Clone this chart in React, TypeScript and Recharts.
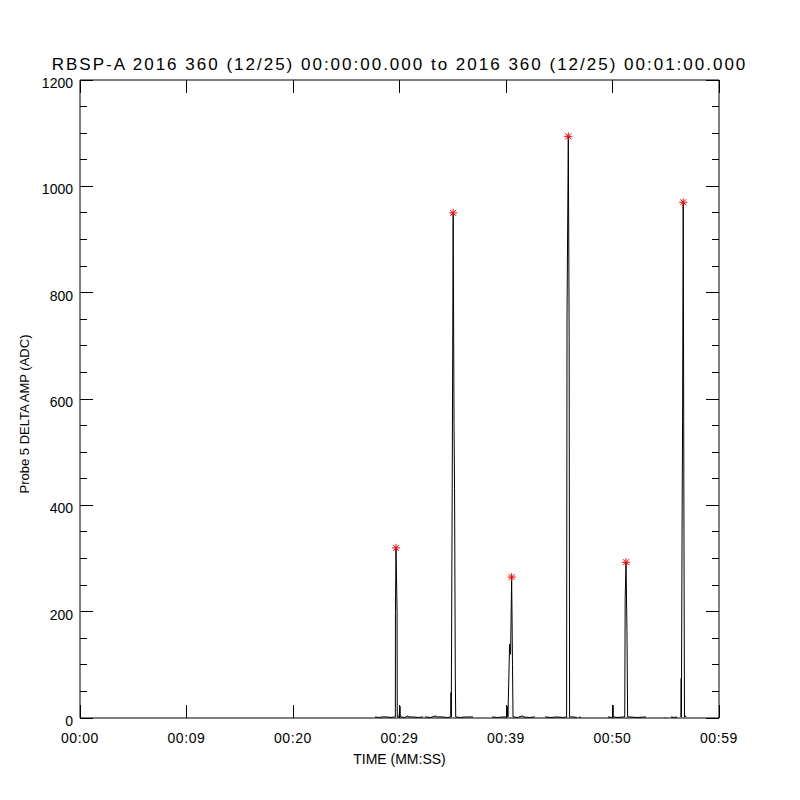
import { ComposedChart, Line, Scatter, XAxis, YAxis } from 'recharts';

// probe 5 delta amplitude samples, seconds since 00:00:00 (null = data gap)
const sampleTime = [
  27.7, 28.05, 28.4, 28.8, 29.2, 29.55, 29.61, 29.62, 29.67, 29.77, 29.79, 29.95, 30.05, 30.08,
  30.5, 30.8, 30.83, 31.3, 31.8, 32.21, 32.3,
  32.39, 32.9, 33.43, 33.46, 34.0, 34.5, 34.82, 34.84, 34.86, 34.95, 35.04, 35.12, 35.17, 35.24,
  35.28, 35.7, 36.3, 36.9, 37.8,
  38.69, 39.2, 39.7, 40.12, 40.15, 40.18, 40.34, 40.43, 40.53, 40.61, 40.66, 41.1, 41.57, 41.6,
  42.2, 42.72, 43.2,
  43.66, 44.2, 44.8, 45.3, 45.69, 45.73, 45.85, 45.93, 45.97, 46.3, 46.67, 46.76,
  46.85, 47.04, 48.3,
  49.58, 49.9, 50.03, 50.05, 50.07, 50.5, 50.99, 51.15, 51.19, 51.27, 51.36, 51.42, 51.55, 52.3,
  53.15, 54.0,
  54.9, 54.96, 55.2,
  55.49, 55.8, 56.06, 56.2,
  56.43, 56.45, 56.47, 56.53, 56.58, 56.64, 56.71, 56.76, 56.87, 56.9,
];
const sampleAmp: (number | null)[] = [
  2, 1, 2, 2, 1, 2, 2, 198, 320, 205, 2, 2, 22, 2,
  1, 4, 2, 2, 1, 2, null,
  2, 1, 4, 2, 2, 1, 2, 48, 2, 432, 950, 554, 432, 77,
  2, 1, 2, 2, null,
  2, 1, 2, 2, 22, 2, 139, 120, 265, 100, 2, 1, 4, 2,
  1, 2, null,
  2, 1, 2, 1, 2, 754, 1094, 716, 2, 2, 1, null,
  2, 1, null,
  2, 1, 2, 24, 2, 1, 2, 2, 225, 293, 162, 2, 2, 1,
  2, null,
  1, 1, null,
  2, 1, 2, null,
  2, 75, 2, 346, 558, 970, 346, 2, 4, 2,
];

// peaks flagged with red asterisks
const peakTime = [29.67, 35.04, 40.53, 45.85, 51.27, 56.64];
const peakAmp = [320, 950, 265, 1094, 293, 970];

const xTickValues = [0, 10, 20, 30, 40, 50, 60];
const xTickLabels = ['00:00', '00:09', '00:20', '00:29', '00:39', '00:50', '00:59'];
const yMajorTicks = [0, 200, 400, 600, 800, 1000, 1200];
const yMinorTicks = [50, 100, 150, 250, 300, 350, 450, 500, 550, 650, 700, 750, 850, 900, 950, 1050, 1100, 1150];

const samples = sampleTime.map((t, i) => ({ t, amp: sampleAmp[i] }));
const peaks = peakTime.map((t, i) => ({ t, amp: peakAmp[i] }));
const yTicks = [...yMajorTicks, ...yMinorTicks].sort((a, b) => a - b);

const FONT = '"Liberation Sans", Arial, sans-serif';
const MAJOR = 13;
const MINOR = 7;

function LeftTick({ x, y, payload }: any) {
  const major = yMajorTicks.includes(payload.value);
  return (
    <g>
      <line x1={x} x2={x + (major ? MAJOR : MINOR)} y1={y} y2={y} stroke="#000" shapeRendering="crispEdges" />
      {major && (
        <text x={x - 7} y={y} dy={8} textAnchor="end" fontSize={14} fontFamily={FONT} fill="#000">
          {payload.value}
        </text>
      )}
    </g>
  );
}

function RightTick({ x, y, payload }: any) {
  const major = yMajorTicks.includes(payload.value);
  return <line x1={x} x2={x - (major ? MAJOR : MINOR)} y1={y} y2={y} stroke="#000" shapeRendering="crispEdges" />;
}

function BottomTick({ x, y, index }: any) {
  return (
    <g>
      <line x1={x} x2={x} y1={y} y2={y - MAJOR} stroke="#000" shapeRendering="crispEdges" />
      <text x={x} y={y + 25} textAnchor="middle" fontSize={14} letterSpacing={0.6} fontFamily={FONT} fill="#000">
        {xTickLabels[index]}
      </text>
    </g>
  );
}

function TopTick({ x, y }: any) {
  return <line x1={x} x2={x} y1={y} y2={y + MAJOR} stroke="#000" shapeRendering="crispEdges" />;
}

function Asterisk({ cx, cy }: any) {
  return (
    <g stroke="#ff0000" strokeWidth={1}>
      <line x1={cx - 4} x2={cx + 4} y1={cy} y2={cy} />
      <line x1={cx} x2={cx} y1={cy - 4} y2={cy + 4} />
      <line x1={cx - 3} x2={cx + 3} y1={cy - 3} y2={cy + 3} />
      <line x1={cx - 3} x2={cx + 3} y1={cy + 3} y2={cy - 3} />
    </g>
  );
}

const titleLabel = ({ viewBox }: any) => (
  <text
    x={viewBox.x + viewBox.width / 2}
    y={viewBox.y + viewBox.height - 10}
    textAnchor="middle"
    fontSize={17}
    letterSpacing={2}
    fontFamily={FONT}
    fill="#000"
  >
    RBSP-A 2016 360 (12/25) 00:00:00.000 to 2016 360 (12/25) 00:01:00.000
  </text>
);

const timeLabel = ({ viewBox }: any) => (
  <text x={viewBox.x + viewBox.width / 2} y={viewBox.y + 46} textAnchor="middle" fontSize={14} fontFamily={FONT} fill="#000">
    TIME (MM:SS)
  </text>
);

const ampLabel = ({ viewBox }: any) => {
  const cx = viewBox.x + 14;
  const cy = viewBox.y + viewBox.height / 2 + 15;
  return (
    <text
      x={cx}
      y={cy}
      transform={`rotate(-90, ${cx}, ${cy})`}
      textAnchor="middle"
      dominantBaseline="central"
      fontSize={13}
      fontFamily={FONT}
      fill="#000"
    >
      Probe 5 DELTA AMP (ADC)
    </text>
  );
};

export default function App() {
  return (
    <div style={{ position: 'absolute', left: 0, top: 0, background: '#fff' }}>
      <ComposedChart width={800} height={800} margin={{ top: 79, right: 80, bottom: 32, left: 10 }}>
        <XAxis
          dataKey="t"
          type="number"
          domain={[0, 60]}
          ticks={xTickValues}
          interval={0}
          height={50}
          stroke="#000"
          tickLine={false}
          tickSize={0}
          tickMargin={0}
          tick={<BottomTick />}
          label={timeLabel}
        />
        <XAxis
          xAxisId="top"
          orientation="top"
          dataKey="t"
          type="number"
          domain={[0, 60]}
          ticks={xTickValues}
          interval={0}
          height={1}
          stroke="#000"
          tickLine={false}
          tickSize={0}
          tickMargin={0}
          tick={<TopTick />}
          label={titleLabel}
        />
        <YAxis
          dataKey="amp"
          type="number"
          domain={[0, 1200]}
          ticks={yTicks}
          interval={0}
          width={70}
          stroke="#000"
          tickLine={false}
          tickSize={0}
          tickMargin={0}
          tick={<LeftTick />}
          label={ampLabel}
        />
        <YAxis
          yAxisId="right"
          orientation="right"
          dataKey="amp"
          type="number"
          domain={[0, 1200]}
          ticks={yTicks}
          interval={0}
          width={1}
          stroke="#000"
          tickLine={false}
          tickSize={0}
          tickMargin={0}
          tick={<RightTick />}
        />
        <Line
          data={samples}
          dataKey="amp"
          type="linear"
          stroke="#000"
          strokeWidth={1}
          dot={false}
          activeDot={false}
          connectNulls={false}
          isAnimationActive={false}
        />
        <Scatter
          data={peaks}
          dataKey="amp"
          xAxisId="top"
          yAxisId="right"
          shape={<Asterisk />}
          isAnimationActive={false}
        />
      </ComposedChart>
    </div>
  );
}
